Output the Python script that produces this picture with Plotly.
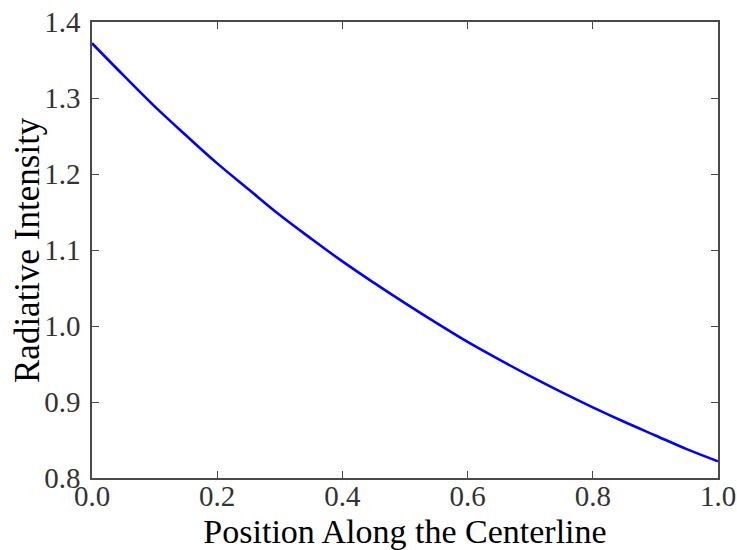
import plotly.graph_objects as go

# Radiative intensity sampled along the centerline
position = [0.00, 0.05, 0.10, 0.15, 0.20, 0.25, 0.30, 0.35, 0.40, 0.45, 0.50,
            0.55, 0.60, 0.65, 0.70, 0.75, 0.80, 0.85, 0.90, 0.95, 1.00]
intensity = [1.372, 1.330, 1.289, 1.251, 1.214, 1.180, 1.146, 1.115, 1.085, 1.057, 1.030,
             1.004, 0.979, 0.956, 0.934, 0.913, 0.893, 0.874, 0.856, 0.838, 0.822]

x_ticks = [0.0, 0.2, 0.4, 0.6, 0.8, 1.0]
x_tick_labels = ["0.0", "0.2", "0.4", "0.6", "0.8", "1.0"]
y_ticks = [0.8, 0.9, 1.0, 1.1, 1.2, 1.3, 1.4]
y_tick_labels = ["0.8", "0.9", "1.0", "1.1", "1.2", "1.3", "1.4"]

serif = "Liberation Serif, DejaVu Serif, serif"
frame = "#4a4a4a"

fig = go.Figure(
    go.Scatter(x=position, y=intensity, mode="lines",
               line=dict(color="#0000ff", width=2.6, shape="spline"),
               hoverinfo="skip")
)

axis_common = dict(
    showgrid=False, zeroline=False, automargin=False,
    showline=True, linecolor=frame, linewidth=1.6, mirror="ticks",
    ticks="inside", ticklen=7, tickwidth=1, tickcolor=frame,
    tickfont=dict(family=serif, size=29, color="#333333"),
)

fig.update_layout(
    width=737, height=550,
    margin=dict(l=92, r=19, t=22, b=72),
    paper_bgcolor="white", plot_bgcolor="white",
    showlegend=False,
    xaxis=dict(range=[0, 1], tickvals=x_ticks, ticktext=x_tick_labels,
               title=dict(text="Position Along the Centerline",
                          font=dict(family=serif, size=34, color="black"),
                          standoff=11),
               ticklabelstandoff=-9,
               **axis_common),
    yaxis=dict(range=[0.8, 1.4], tickvals=y_ticks, ticktext=y_tick_labels,
               ticklabelstandoff=4,
               **axis_common),
    annotations=[dict(
        text="Radiative Intensity", textangle=-90,
        xref="paper", yref="paper", x=0, y=0.5, xshift=-65,
        xanchor="center", yanchor="middle", showarrow=False,
        font=dict(family=serif, size=35, color="black"),
    )],
)

fig.write_html("out.html")
